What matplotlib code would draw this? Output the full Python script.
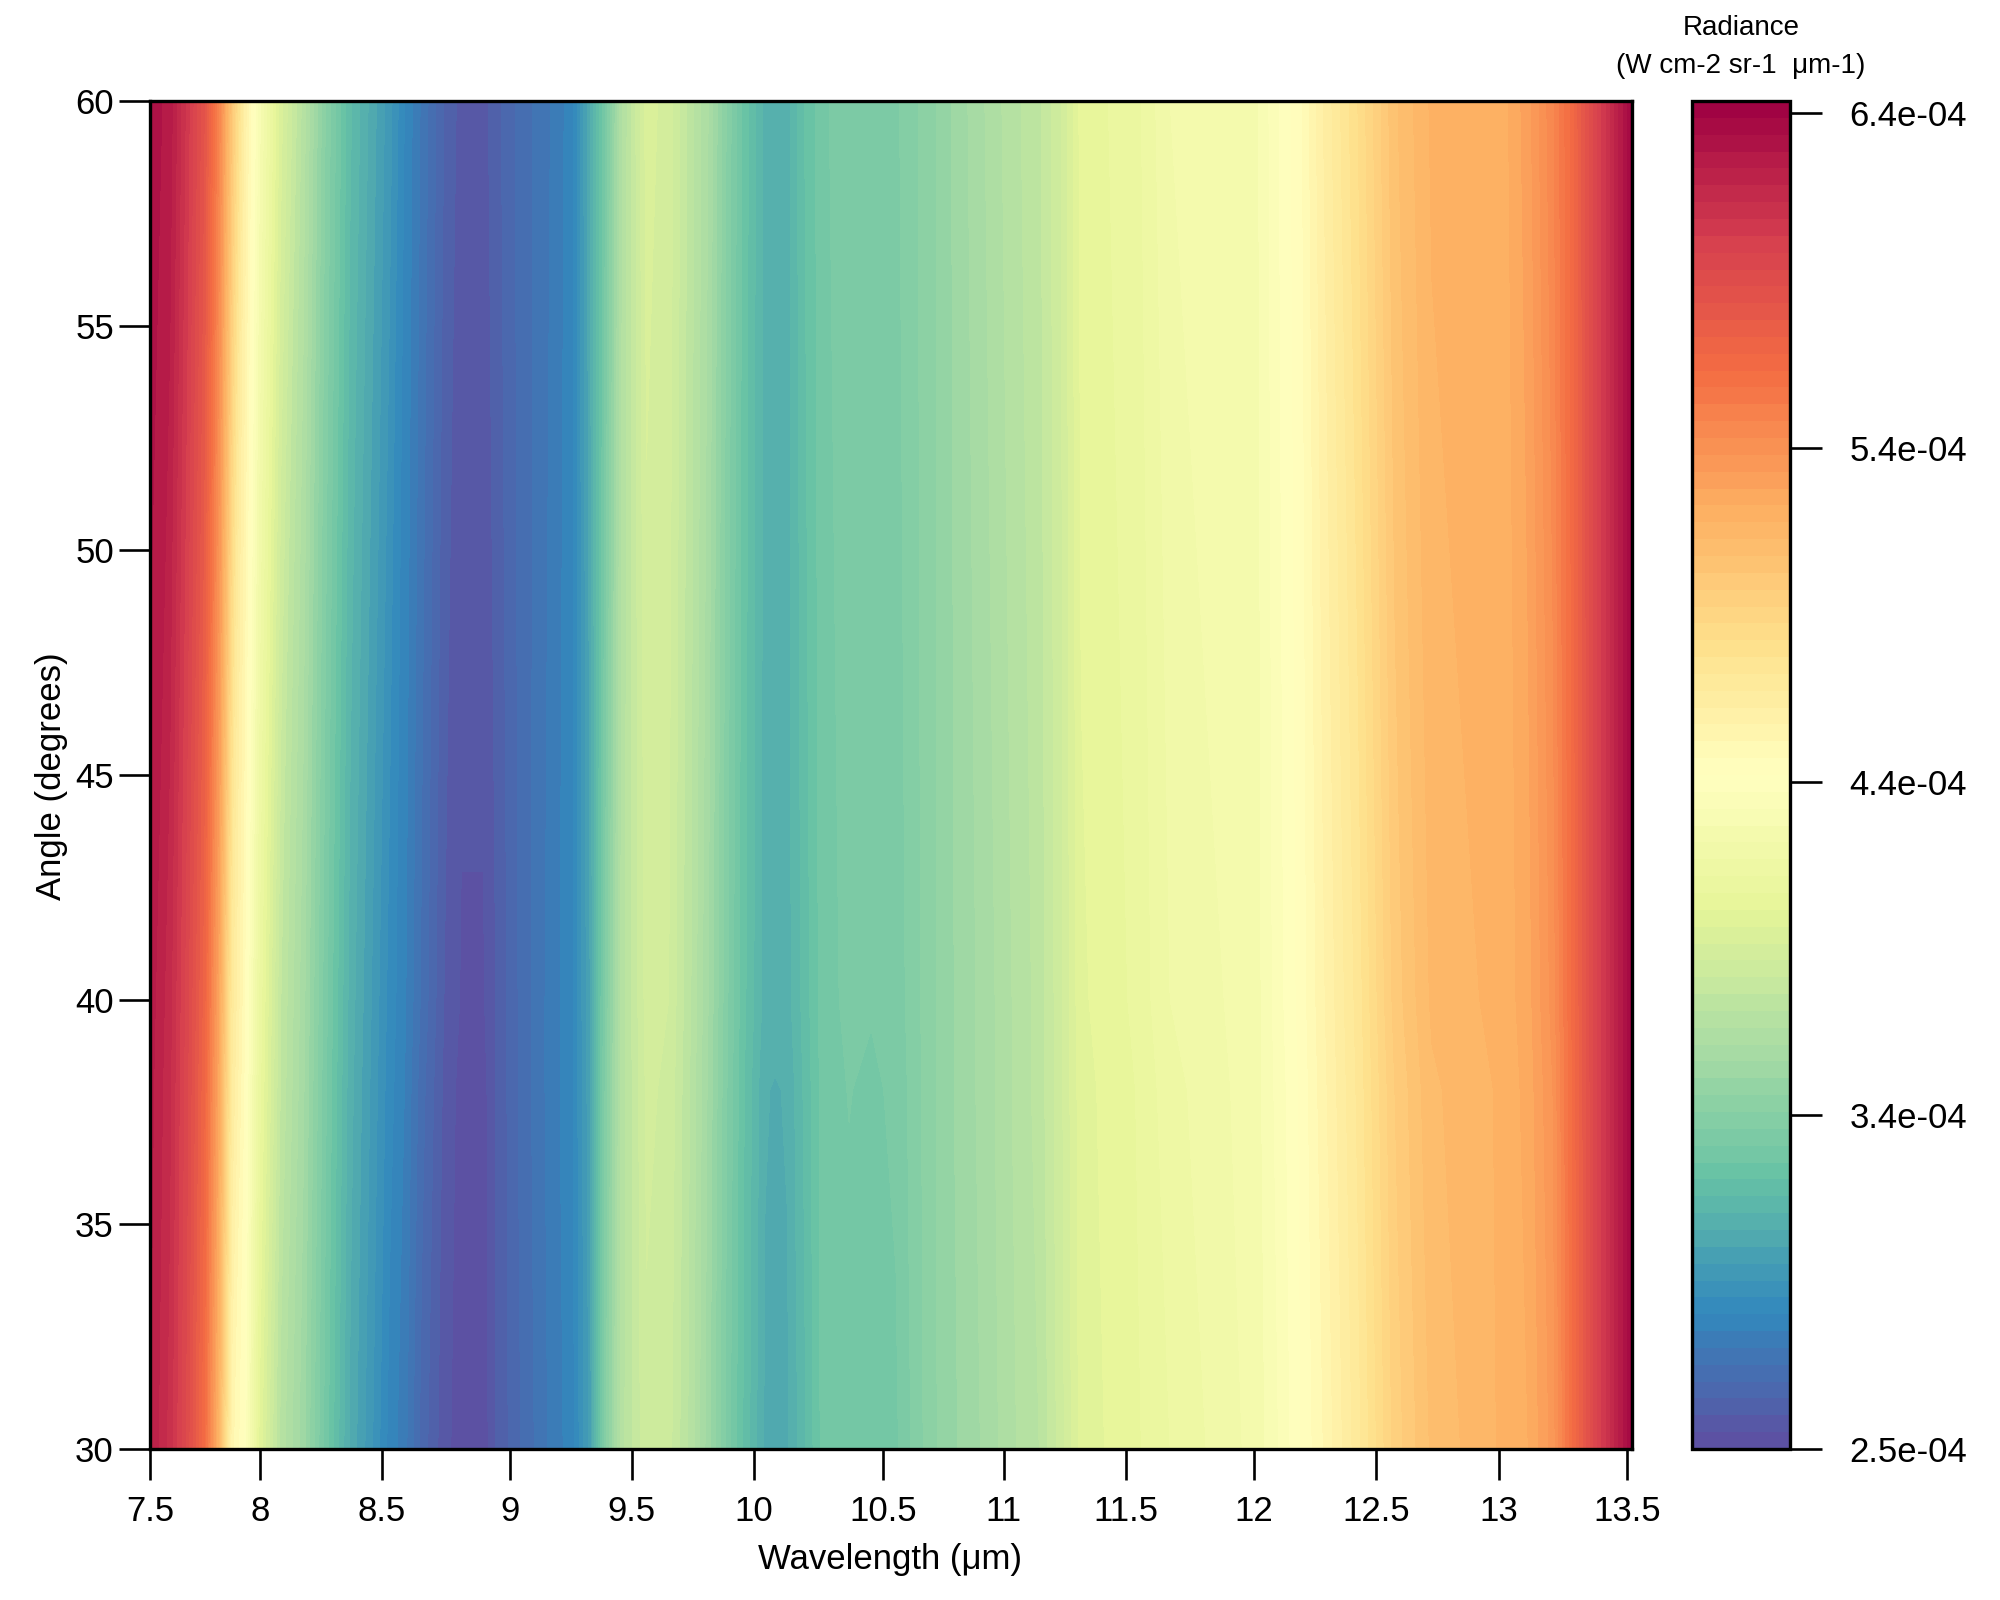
import numpy as np
import matplotlib
matplotlib.use("Agg")
import matplotlib.pyplot as plt

plt.rcParams['font.family'] = ['Liberation Sans', 'DejaVu Sans']

wavelength = [7.50,7.58,7.65,7.72,7.78,7.83,7.88,7.94,8.03,8.12,8.21,8.31,8.39,8.47,8.53,8.60,8.69,8.76,8.85,8.90,8.99,9.11,9.21,9.28,9.34,9.41,9.51,9.60,9.69,9.76,9.84,9.90,9.99,10.03,10.08,10.15,10.23,10.33,10.42,10.52,10.67,10.77,10.88,10.99,11.10,11.19,11.27,11.49,11.63,11.98,12.08,12.16,12.25,12.39,12.54,12.69,12.98,13.08,13.18,13.25,13.35,13.44,13.50]
angle = [30, 38, 40, 60]

# radiance, in units of 1e-4 W cm-2 sr-1 um-1
radiance_30 = [6.25,6.13,5.93,5.65,5.17,4.57,4.45,4.05,3.73,3.57,3.33,3.09,2.97,2.83,2.77,2.63,2.52,2.47,2.47,2.55,2.64,2.75,2.83,3.01,3.41,3.73,3.89,3.87,3.73,3.57,3.37,3.25,3.09,3.07,3.09,3.19,3.33,3.33,3.33,3.34,3.49,3.55,3.61,3.69,3.75,3.88,4.02,4.09,4.15,4.27,4.36,4.45,4.55,4.73,4.97,5.11,5.21,5.25,5.37,5.61,5.97,6.23,6.42]
radiance_38 = [6.27,6.16,5.96,5.70,5.26,4.70,4.50,4.13,3.79,3.61,3.36,3.12,3.00,2.87,2.80,2.67,2.54,2.48,2.48,2.55,2.65,2.76,2.84,3.03,3.39,3.72,3.91,3.89,3.74,3.59,3.39,3.26,3.105,3.095,3.105,3.21,3.33,3.352,3.34,3.36,3.49,3.56,3.62,3.70,3.77,3.89,4.03,4.10,4.18,4.28,4.38,4.46,4.58,4.76,5.00,5.14,5.21,5.27,5.40,5.62,5.97,6.23,6.42]
radiance_40 = [6.28,6.17,5.97,5.72,5.28,4.73,4.52,4.15,3.80,3.62,3.37,3.13,3.01,2.88,2.81,2.69,2.55,2.495,2.495,2.55,2.65,2.76,2.84,3.04,3.38,3.72,3.92,3.90,3.75,3.60,3.40,3.27,3.13,3.13,3.13,3.22,3.335,3.36,3.355,3.37,3.49,3.56,3.62,3.70,3.77,3.89,4.04,4.11,4.20,4.28,4.39,4.47,4.59,4.77,5.02,5.16,5.22,5.28,5.42,5.63,5.97,6.23,6.42]
radiance_60 = [6.33,6.28,6.08,5.85,5.49,5.05,4.65,4.33,3.97,3.73,3.45,3.21,3.09,2.97,2.85,2.74,2.60,2.53,2.53,2.58,2.66,2.74,2.83,3.09,3.33,3.69,3.97,3.93,3.77,3.65,3.43,3.29,3.13,3.13,3.13,3.25,3.34,3.39,3.39,3.39,3.49,3.57,3.65,3.73,3.79,3.90,4.07,4.13,4.25,4.29,4.41,4.49,4.65,4.85,5.09,5.21,5.23,5.33,5.49,5.65,5.97,6.23,6.42]

x_tick_positions = [7.50,7.945,8.439,8.957,9.451,9.945,10.468,10.957,11.451,11.97,12.464,12.962,13.48]
x_tick_labels = ['7.5','8','8.5','9','9.5','10','10.5','11','11.5','12','12.5','13','13.5']
y_ticks = [30,35,40,45,50,55,60]
cbar_ticks = [2.45,3.44,4.43,5.42,6.414]
cbar_labels = ['2.5e-04','3.4e-04','4.4e-04','5.4e-04','6.4e-04']
levels = np.linspace(2.45, 6.45, 81)

W, H = 2000, 1600
fig = plt.figure(figsize=(20, 16), dpi=100)
ax = fig.add_axes([150/W, 1-1449/H, (1632-150)/W, (1449-101)/H])
cax = fig.add_axes([1692/W, 1-1449/H, (1790-1692)/W, (1449-101)/H])

Z = np.array([radiance_30, radiance_38, radiance_40, radiance_60])
cs = ax.contourf(wavelength, angle, Z, levels=levels, cmap='Spectral_r', antialiased=False)
ax.set_xlim(7.5, 13.5)
ax.set_ylim(30, 60)

FS = 25
ax.set_xticks(x_tick_positions)
ax.set_xticklabels(x_tick_labels)
ax.set_yticks(y_ticks)
ax.tick_params(axis='both', length=22, width=1.9, labelsize=FS, color='black')
ax.tick_params(axis='x', pad=11)
ax.tick_params(axis='y', pad=4)
for s in ax.spines.values():
    s.set_linewidth(2.4)
fig.text(890/W, 1-1560/H, 'Wavelength (μm)', fontsize=FS, ha='center', va='center')
fig.text(52/W, 1-776/H, 'Angle (degrees)', fontsize=FS, ha='center', va='center', rotation=90)

cb = fig.colorbar(cs, cax=cax, drawedges=False)
cb.set_ticks(cbar_ticks)
cb.set_ticklabels(cbar_labels)
cb.minorticks_off()
cb.ax.tick_params(length=23, width=1.9, labelsize=FS, pad=20)
cb.outline.set_linewidth(2.4)

fig.text(1741/W, 1-28/H, 'Radiance', fontsize=20, ha='center', va='center')
fig.text(1741/W, 1-66/H, '(W cm-2 sr-1  μm-1)', fontsize=20, ha='center', va='center')

fig.savefig('out.png', dpi=100)
